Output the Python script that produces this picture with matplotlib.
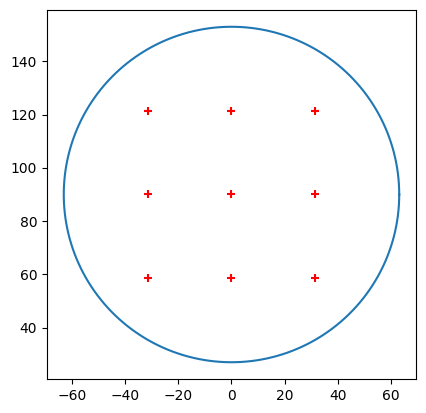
import numpy as np
import matplotlib
matplotlib.use('Agg')
from matplotlib import pyplot as plt

# circle (center and radius) and the grid of sample points
center_x = 0.0
center_y = 90.0
radius = 63.0
point_x = [-31.5, 0.0, 31.5]
point_y = [58.5, 90.0, 121.5]

theta = np.linspace(0, 2 * np.pi, 200)
circle_x = center_x + radius * np.cos(theta)
circle_y = center_y + radius * np.sin(theta)

gx, gy = np.meshgrid(point_x, point_y)

fig = plt.figure(figsize=(4.26, 4.13), dpi=100)
ax = fig.add_axes([47 / 426, 34 / 413, 369 / 426, 369 / 413])
ax.plot(circle_x, circle_y)
ax.scatter(gx.ravel(), gy.ravel(), marker='+', color='red')
ax.set_aspect('equal')

fig.savefig('out.png')
